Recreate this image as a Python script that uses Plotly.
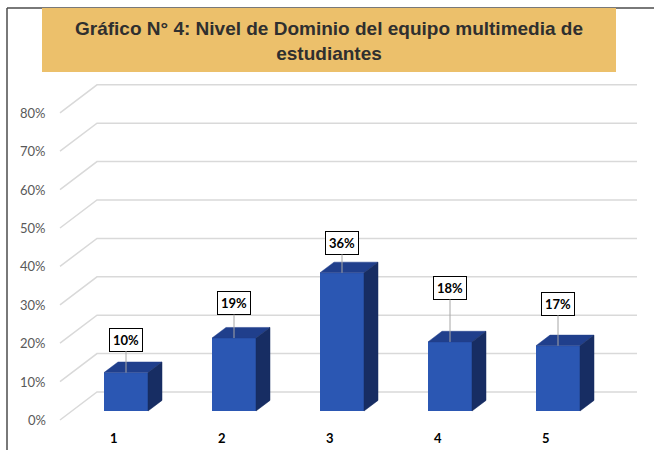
import plotly.graph_objects as go

categories = [1, 2, 3, 4, 5]
values = [10, 19, 36, 18, 17]
tick_labels = ["1", "2", "3", "4", "5"]
grid_levels = [0, 10, 20, 30, 40, 50, 60, 70, 80]
label_offsets = [-33, -35, -30, -54, -42]   # vertical offsets of the callout boxes (px)

W, H = 654, 450
# pixel model of the oblique projection
CAT_PX, X0_PX = 108, 126
PCT_PX, BASE_PX = 3.84, 411

def px_x(p):
    return 1 + (p - X0_PX) / CAT_PX

def px_dy(p):
    return p / PCT_PX

bar_w = 44 / CAT_PX
dx, dy = 14 / CAT_PX, px_dy(10.6)

front_c = "#2B57B3"
top_c = "#203F8C"
side_c = "#172D63"

# top and side faces
tx, ty, sx, sy = [], [], [], []
for c, v in zip(categories, values):
    x0, x1 = c - bar_w / 2, c + bar_w / 2
    tx += [x0, x1, x1 + dx, x0 + dx, x0, None]
    ty += [v, v, v + dy, v + dy, v, None]
    sx += [x1, x1, x1 + dx, x1 + dx, x1, None]
    sy += [0, v, v + dy, dy, 0, None]

fig = go.Figure()
fig.add_trace(go.Bar(x=categories, y=values, width=bar_w, marker=dict(color=front_c, line=dict(width=0)),
                     hoverinfo="skip"))
fig.add_trace(go.Scatter(x=tx, y=ty, fill="toself", fillcolor=top_c, mode="lines",
                         line=dict(width=0.5, color=top_c), hoverinfo="skip"))
fig.add_trace(go.Scatter(x=sx, y=sy, fill="toself", fillcolor=side_c, mode="lines",
                         line=dict(width=0.5, color=side_c), hoverinfo="skip"))

shapes = []
# frame + title box
shapes.append(dict(type="line", xref="paper", yref="paper", x0=7 / W, x1=1, y0=1 - 8 / H, y1=1 - 8 / H,
                   line=dict(color="#4d4d4d", width=1.5), layer="below"))
shapes.append(dict(type="line", xref="paper", yref="paper", x0=7 / W, x1=7 / W, y0=0, y1=1 - 8 / H,
                   line=dict(color="#4d4d4d", width=1.5), layer="below"))
shapes.append(dict(type="rect", xref="paper", yref="paper", x0=42 / W, x1=616 / W, y0=1 - 72 / H, y1=1 - 8 / H,
                   fillcolor="#ECC06B", line=dict(width=0), layer="below"))

# gridlines: front diagonal then back wall
fl, bl, br = px_x(60), px_x(97), px_x(637)
front_off, back_off = -px_dy(9), px_dy(19)
for v in grid_levels:
    path = f"M {fl},{v + front_off} L {bl},{v + back_off} L {br},{v + back_off}"
    shapes.append(dict(type="path", xref="x", yref="y", path=path,
                       line=dict(color="#D9D9D9", width=1.5), layer="below"))

annotations = []
annotations.append(dict(xref="paper", yref="paper", x=329 / W, y=1 - 41 / H, showarrow=False,
                        text="<b>Gráfico N° 4: Nivel de Dominio del equipo multimedia de<br>estudiantes</b>",
                        font=dict(family="Liberation Sans, Arial", size=19, color="#2f2f2f"),
                        xanchor="center", yanchor="middle"))
for v in grid_levels:
    annotations.append(dict(x=px_x(48), y=v + front_off, text=f"{v}%", showarrow=False,
                            xanchor="right", yanchor="middle",
                            font=dict(family="Lato, Liberation Sans", size=13, color="#595959")))
for c, t in zip(categories, tick_labels):
    annotations.append(dict(x=c - 12 / CAT_PX, y=-px_dy(27), text=f"<b>{t}</b>", showarrow=False,
                            xanchor="center", yanchor="middle",
                            font=dict(family="Lato, Liberation Sans", size=13, color="#000000")))
for c, v, off in zip(categories, values, label_offsets):
    annotations.append(dict(x=c, y=v, text=f"<b>{v}%</b>", showarrow=True, arrowhead=0,
                            arrowwidth=1, arrowcolor="#A6A6A6", ax=0, ay=off, standoff=0,
                            bgcolor="white", bordercolor="#000000", borderwidth=1, borderpad=3,
                            font=dict(family="Lato, Liberation Sans", size=13, color="#000000")))

fig.update_layout(
    width=W, height=H,
    margin=dict(l=0, r=0, t=0, b=0),
    paper_bgcolor="white", plot_bgcolor="white",
    showlegend=False,
    xaxis=dict(range=[px_x(0), px_x(W)], visible=False, fixedrange=True),
    yaxis=dict(range=[-px_dy(H - BASE_PX), px_dy(BASE_PX)], visible=False, fixedrange=True),
    shapes=shapes, annotations=annotations,
)
fig.write_html("out.html", config={"displayModeBar": False},
               post_script="document.body.style.margin='0px';document.body.style.overflow='hidden';")
